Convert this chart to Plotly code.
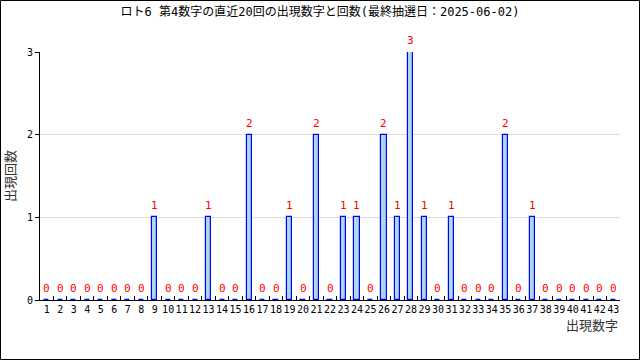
import plotly.graph_objects as go

numbers = [str(i) for i in range(1, 44)]
hits = {9: 1, 13: 1, 16: 2, 19: 1, 21: 2, 23: 1, 24: 1, 26: 2, 27: 1, 28: 3,
        29: 1, 31: 1, 35: 2, 37: 1}
counts = [hits.get(i, 0) for i in range(1, 44)]

title = "ロト6 第4数字の直近20回の出現数字と回数(最終抽選日：2025-06-02)"
x_title = "出現数字"
y_title = "出現回数"

W, H = 640, 360
L, R, T, B = 40, 20, 52, 60
font = "DejaVu Sans Mono, Noto Sans CJK JP, monospace"

fig = go.Figure()
fig.add_trace(go.Bar(
    x=numbers, y=counts, width=0.38,
    marker=dict(color="#ADD8E6", line=dict(color="#0000FF", width=1.2)),
))

pw, ph = W - L - R, H - T - B
# category axis: annotation x given as category index
label_annotations = [
    dict(x=idx, y=c, xref="x", yref="y", text=str(c), showarrow=False,
         xanchor="center", yanchor="bottom", yshift=3,
         font=dict(color="#FF0000", size=11, family=font))
    for idx, c in enumerate(counts)
]
fig.update_layout(
    width=W, height=H,
    margin=dict(l=L, r=R, t=T, b=B),
    plot_bgcolor="white", paper_bgcolor="white",
    font=dict(family=font, size=10, color="#000"),
    title=dict(text=title, x=0.5, xanchor="center", y=1 - 12 / H, yanchor="middle",
               font=dict(size=12, color="#000")),
    showlegend=False,
    bargap=0,
    shapes=[dict(type="rect", xref="paper", yref="paper",
                 x0=-L / pw + 0.5 / pw, x1=1 + (R - 0.5) / pw,
                 y0=-(B - 0.5) / ph, y1=1 + (T - 0.5) / ph,
                 line=dict(color="black", width=1), fillcolor="rgba(0,0,0,0)")],
    annotations=label_annotations + [
        dict(text=x_title, xref="paper", yref="paper", x=1, y=-16 / ph,
             xanchor="right", yanchor="top", showarrow=False,
             font=dict(size=13, color="#333")),
        dict(text=y_title, xref="paper", yref="paper", x=-30 / pw, y=0.5,
             xanchor="center", yanchor="middle", showarrow=False, textangle=-90,
             font=dict(size=13, color="#333")),
    ],
)
fig.update_xaxes(type="category", range=[-0.5, len(numbers) - 0.5],
                 tickson="boundaries", ticks="inside", ticklen=4,
                 tickcolor="black", showline=True, linecolor="black", linewidth=1,
                 showgrid=False, tickfont=dict(size=10), tickangle=0)
fig.update_yaxes(range=[0, 3], tickvals=[0, 1, 2, 3], ticks="outside", ticklen=4,
                 tickcolor="black", showline=True, linecolor="black", linewidth=1,
                 showgrid=True, gridcolor="#DDDDDD", zeroline=False,
                 tickfont=dict(size=10))

fig.write_html("out.html")
